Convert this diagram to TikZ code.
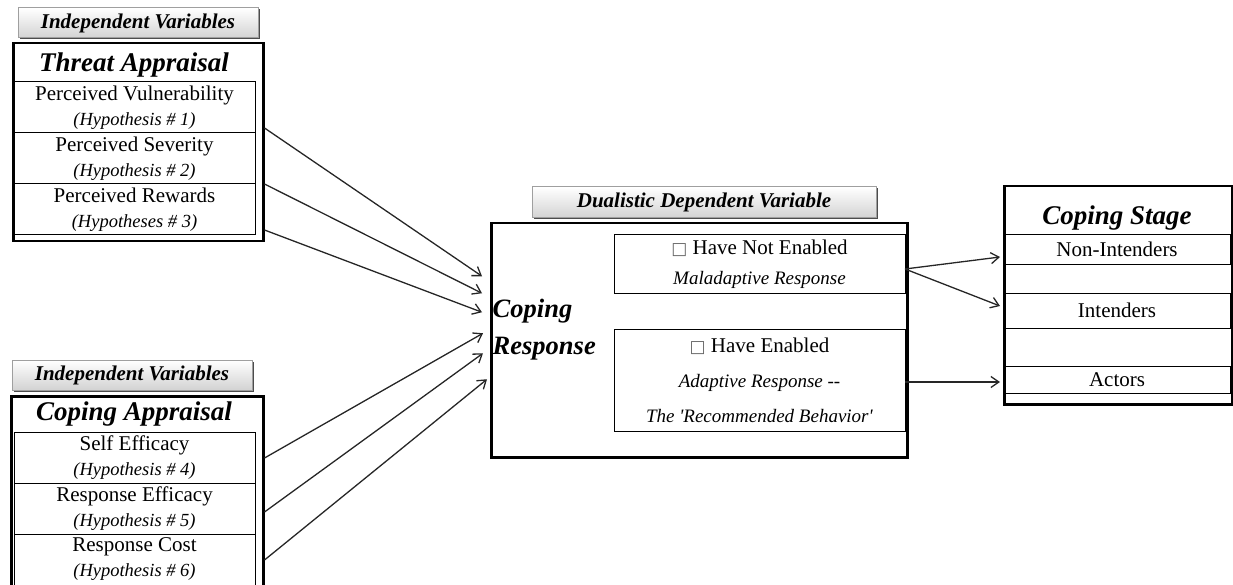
\documentclass[tikz,border=0pt]{standalone}
\usepackage{fontspec}
\setmainfont{Liberation Serif}
\newfontfamily\symfont{DejaVu Sans}
\usetikzlibrary{positioning,arrows.meta,shadows}

\newcommand{\hypo}[1]{{\fontsize{18.5}{20}\selectfont\itshape #1}}
\newcommand{\tofu}{{\symfont\fontsize{17}{17}\selectfont\color{black!60}\char"25A1}}

\begin{document}
\begin{tikzpicture}[x=1pt, y=-1pt, thick,
    >={Straight Barb[length=8pt,width=11pt]},
    header/.style={rectangle, draw=gray!75, line width=1pt, top color=white, bottom color=gray!35,
        inner sep=0pt, font=\fontsize{21}{24}\selectfont\bfseries\itshape,
        drop shadow={shadow xshift=1.5pt, shadow yshift=-1.5pt, fill=black!70, opacity=1}},
    panel/.style={rectangle, draw, line width=2.5pt, inner sep=0pt, anchor=north west},
    title/.style={font=\fontsize{27}{30}\selectfont\bfseries\itshape},
    row/.style={rectangle, draw, line width=1pt, inner sep=0pt, outer sep=0pt, align=center,
        minimum width=241pt, minimum height=51pt, font=\fontsize{21}{25}\selectfont},
    option/.style={rectangle, draw, line width=1pt, inner sep=0pt, outer sep=0pt, align=center,
        minimum width=291pt, anchor=north west},
    stage/.style={rectangle, draw, line width=1pt, inner sep=0pt, outer sep=0pt,
        minimum width=226pt, anchor=north west, font=\fontsize{21}{23}\selectfont},
    link/.style={->, line width=1.3pt, black!85}]

\useasboundingbox (0,0) rectangle (1233,585);

% Threat appraisal
\node [header, minimum width=240pt, minimum height=30pt] (hdrA) at (138,23) {Independent Variables};
\node [panel, minimum width=250pt, minimum height=198pt] (panelA) at (12,42) {};
\node [title] (titleA) at (134,65) {Threat Appraisal};
\node [row, anchor=north west] (rowA1) at (14,82) {Perceived Vulnerability\\\hypo{(Hypothesis \# 1)}};
\node [row, below=0pt of rowA1] (rowA2) {Perceived Severity\\\hypo{(Hypothesis \# 2)}};
\node [row, below=0pt of rowA2] (rowA3) {Perceived Rewards\\\hypo{(Hypotheses \# 3)}};

% Coping appraisal
\node [header, minimum width=240pt, minimum height=30pt] (hdrB) at (132,375) {Independent Variables};
\node [panel, minimum width=252pt, minimum height=205pt] (panelB) at (10,395) {};
\node [title] (titleB) at (134,414) {Coping Appraisal};
\node [row, anchor=north west] (rowB1) at (14,432) {Self Efficacy\\\hypo{(Hypothesis \# 4)}};
\node [row, below=0pt of rowB1] (rowB2) {Response Efficacy\\\hypo{(Hypothesis \# 5)}};
\node [row, below=0pt of rowB2] (rowB3) {Response Cost\\\hypo{(Hypothesis \# 6)}};

% Dependent variable
\node [header, minimum width=344pt, minimum height=31pt] (hdrC) at (704,202.5) {Dualistic Dependent Variable};
\node [panel, minimum width=416pt, minimum height=234pt] (panelC) at (490,222) {};
\node [title, anchor=west, align=left, font=\fontsize{26.5}{37}\selectfont\bfseries\itshape] (respC) at (489,330) {Coping\\Response};
\node [option, minimum height=58pt, font=\fontsize{21}{30}\selectfont] (optNot) at (614,235)
    {\tofu\ Have Not Enabled\\\textit{\fontsize{19}{30}\selectfont Maladaptive Response}};
\node [option, minimum height=102pt, font=\fontsize{21}{35}\selectfont] (optYes) at (614,329)
    {\tofu\ Have Enabled\\\textit{\fontsize{19}{35}\selectfont Adaptive Response -{}-}\\\textit{\fontsize{19}{35}\selectfont The \textquotesingle Recommended Behavior\textquotesingle}};

% Coping stage
\node [panel, minimum width=228pt, minimum height=218pt] (panelD) at (1003,185) {};
\node [title] (titleD) at (1117,218) {Coping Stage};
\node [stage, minimum height=29pt] (stD1) at (1004,235) {Non-Intenders};
\node [stage, minimum height=35pt] (stD2) at (1004,293) {Intenders};
\node [stage, minimum height=27pt] (stD3) at (1004,366) {Actors};

% Arrows
\draw [link] ([yshift=5pt]rowA1.south -| panelA.east) -- ([xshift=-8pt,yshift=64pt]panelC.west);
\draw [link] (rowA2.south -| panelA.east) -- ([xshift=-8pt,yshift=47pt]panelC.west);
\draw [link] ([yshift=5pt]rowA3.south -| panelA.east) -- ([xshift=-8pt,yshift=28pt]panelC.west);
\draw [link] ([yshift=-26pt]rowB1.north -| panelB.east) -- ([xshift=-7pt,yshift=7pt]panelC.west);
\draw [link] ([yshift=-29pt]rowB2.north -| panelB.east) -- ([xshift=-7pt,yshift=-13pt]panelC.west);
\draw [link] ([yshift=-26pt]rowB3.north -| panelB.east) -- ([xshift=-3pt,yshift=-39pt]panelC.west);
\draw [link] ([yshift=-5pt]optNot.east) -- ([xshift=-4pt,yshift=-7.5pt]stD1.west);
\draw [link] ([yshift=-5pt]optNot.east) -- ([xshift=-4pt,yshift=4.5pt]stD2.west);
\draw [link] ([yshift=-2pt]optYes.east) -- ([xshift=-4pt,yshift=-2.5pt]stD3.west);

\end{tikzpicture}
\end{document}
